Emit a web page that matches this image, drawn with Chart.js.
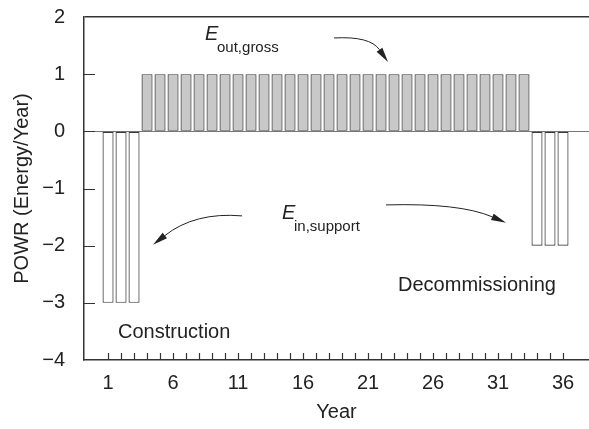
<!DOCTYPE html>
<html>
<head>
<meta charset="utf-8">
<script src="https://cdn.jsdelivr.net/npm/chart.js@4.4.1/dist/chart.umd.min.js"></script>
<style>
  html, body { margin: 0; padding: 0; background: #fff; }
</style>
</head>
<body>
<canvas id="powr_chart" width="589" height="429"></canvas>
<script>
// ? POWR bar chart: energy per year over the plant's life

// ! data
const years = [1, 2, 3, 4, 5, 6, 7, 8, 9, 10, 11, 12, 13, 14, 15, 16, 17, 18,
    19, 20, 21, 22, 23, 24, 25, 26, 27, 28, 29, 30, 31, 32, 33, 34, 35, 36];
const powr = [-3, -3, -3,
    1, 1, 1, 1, 1, 1, 1, 1, 1, 1, 1, 1, 1, 1, 1, 1, 1, 1, 1, 1, 1, 1, 1, 1, 1, 1, 1, 1, 1, 1,
    -2, -2, -2];
const xTickLabels = [1, 6, 11, 16, 21, 26, 31, 36];
const yTickLabels = [2, 1, 0, -1, -2, -3, -4];

const FONT = '"Liberation Sans", Arial, Helvetica, sans-serif';
const INK = '#222';

// ! notes and arrows, placed in data units
const notes = [
    { text: 'E', sub: 'out,gross', x: 8.46, y: 1.6 },
    { text: 'E', sub: 'in,support', x: 14.38, y: -1.53 },
    { text: 'Construction', x: 1.77, y: -3.61 },
    { text: 'Decommissioning', x: 23.31, y: -2.79 },
];
const arrows = [
    [[18.38, 1.633], [21.15, 1.668], [22.54, 1.213]],
    [[11.31, -1.479], [7.69, -1.409], [4.46, -1.986]],
    [[22.38, -1.287], [28.08, -1.252], [31.62, -1.601]],
];

const minus = v => (v < 0 ? '\u2212' + Math.abs(v) : String(v));

// inward ticks, the annotations and arrows
const extras = {
    id: 'extras',
    afterDatasetsDraw(chart) {
        const { ctx, chartArea: a, scales: { x, y } } = chart;
        ctx.save();
        ctx.strokeStyle = '#333';
        ctx.lineWidth = 1.2;
        ctx.beginPath();
        yTickLabels.forEach(v => {
            if (v === 2 || v === -4) return;
            const py = Math.round(y.getPixelForValue(v)) + 0.5;
            ctx.moveTo(a.left, py);
            ctx.lineTo(a.left + 11, py);
        });
        years.forEach(v => {
            const px = Math.round(x.getPixelForValue(v)) + 0.5;
            ctx.moveTo(px, a.bottom);
            ctx.lineTo(px, a.bottom - 7);
        });
        ctx.stroke();

        ctx.fillStyle = INK;
        ctx.textBaseline = 'alphabetic';
        notes.forEach(n => {
            const px = x.getPixelForValue(n.x);
            const py = y.getPixelForValue(n.y);
            if (n.sub) {
                ctx.font = 'italic 20px ' + FONT;
                ctx.fillText(n.text, px, py);
                ctx.font = '15px ' + FONT;
                ctx.fillText(n.sub, px + 12, py + 12);
            } else {
                ctx.font = '20px ' + FONT;
                ctx.fillText(n.text, px, py);
            }
        });

        ctx.strokeStyle = INK;
        ctx.lineWidth = 1;
        arrows.forEach(pts => {
            const [p0, p1, p2] = pts.map(p => [x.getPixelForValue(p[0]), y.getPixelForValue(p[1])]);
            const ang = Math.atan2(p2[1] - p1[1], p2[0] - p1[0]);
            const len = 15, half = 3.5;
            const bx = p2[0] - len * Math.cos(ang), by = p2[1] - len * Math.sin(ang);
            ctx.beginPath();
            ctx.moveTo(p0[0], p0[1]);
            ctx.quadraticCurveTo(p1[0], p1[1], bx, by);
            ctx.stroke();
            ctx.beginPath();
            ctx.moveTo(p2[0], p2[1]);
            ctx.lineTo(bx + half * Math.sin(ang), by - half * Math.cos(ang));
            ctx.lineTo(bx - half * Math.sin(ang), by + half * Math.cos(ang));
            ctx.closePath();
            ctx.fill();
        });
        ctx.restore();
    }
};

const powr_chart = new Chart(
    document.getElementById('powr_chart').getContext('2d'), {
    type: 'bar',
    data: {
        datasets: [
            {
                label: 'POWR',
                data: years.map((yr, i) => ({ x: yr, y: powr[i] })),
                backgroundColor: powr.map(v => (v > 0 ? '#c8c8c8' : '#ffffff')),
                borderColor: '#3a3a3a',
                borderWidth: 1.2,
                borderSkipped: false,
                barPercentage: 0.85,
                categoryPercentage: 1,
            },
        ],
    },
    options: {
        responsive: false,
        animation: false,
        layout: { padding: { top: 17, right: 0, left: 0, bottom: 0 } },
        plugins: {
            legend: { display: false },
            title: { display: false },
            tooltip: { enabled: false },
        },
        scales: {
            x: {
                type: 'linear',
                offset: false,
                min: -0.85,
                max: 38,
                afterBuildTicks: s => { s.ticks = xTickLabels.map(v => ({ value: v })); },
                afterFit: s => { s.height = 69; s.paddingLeft = 0; s.paddingRight = 0; },
                grid: { display: true, offset: false, drawOnChartArea: false, drawTicks: false, color: 'transparent' },
                border: { display: true, color: '#333', width: 1.5 },
                ticks: {
                    autoSkip: false, maxRotation: 0, padding: 11,
                    color: INK, font: { family: FONT, size: 20 },
                },
                title: {
                    display: true, text: 'Year', color: INK,
                    font: { family: FONT, size: 20 }, padding: { top: 0, bottom: 5 },
                },
            },
            y: {
                min: -4,
                max: 2,
                afterBuildTicks: s => { s.ticks = yTickLabels.map(v => ({ value: v })); },
                afterFit: s => { s.width = 84; s.paddingTop = 0; s.paddingBottom = 0; },
                grid: {
                    drawTicks: false,
                    color: c => (c.tick.value === 0 ? '#777' : c.tick.value === 2 ? '#333' : 'transparent'),
                    lineWidth: c => (c.tick.value === 2 ? 1.5 : 1),
                },
                border: { display: true, color: '#333', width: 1.5 },
                ticks: {
                    padding: 19, color: INK, font: { family: FONT, size: 20 },
                    callback: v => minus(v),
                },
                title: {
                    display: true, text: 'POWR (Energy/Year)', color: INK,
                    font: { family: FONT, size: 20 }, padding: { top: 10, bottom: 0 },
                },
            },
        },
    },
    plugins: [extras],
});
</script>
</body>
</html>
